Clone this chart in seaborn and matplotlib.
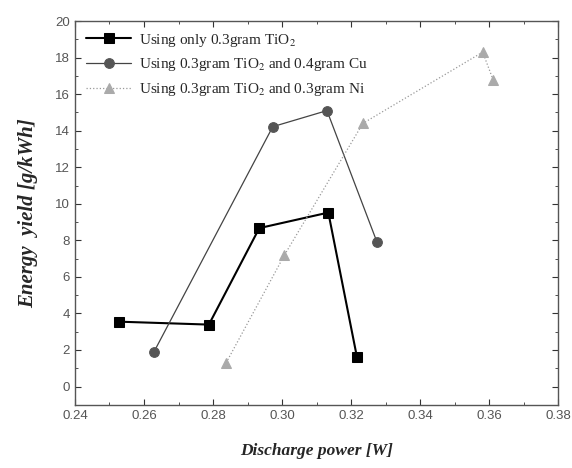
import matplotlib
matplotlib.use("Agg")
import matplotlib.pyplot as plt
import numpy as np
import pandas as pd
import seaborn as sns
from matplotlib.ticker import MultipleLocator

# values
power_tio2 = [0.2528, 0.2788, 0.2934, 0.3134, 0.3217]
yield_tio2 = [3.55, 3.39, 8.67, 9.52, 1.6]

power_cu = [0.2629, 0.2973, 0.3130, 0.3275]
yield_cu = [1.9, 14.22, 15.1, 7.9]

power_ni = [0.2838, 0.3007, 0.3234, 0.3581, 0.3611]
yield_ni = [1.3, 7.2, 14.4, 18.3, 16.8]

labels = ["Using only 0.3gram TiO$_2$",
          "Using 0.3gram TiO$_2$ and 0.4gram Cu",
          "Using 0.3gram TiO$_2$ and 0.3gram Ni"]

sns.set_style("ticks")
plt.rcParams['font.family'] = ['Liberation Serif', 'DejaVu Serif']
plt.rcParams['mathtext.fontset'] = 'stix'

fig = plt.figure(figsize=(5.72, 4.68), dpi=100)
ax = fig.add_axes([0.131, 0.135, 0.845, 0.82])

sns.lineplot(x=power_tio2, y=yield_tio2, ax=ax, color="black", lw=1.5,
             marker="s", markersize=7, markeredgecolor="black", sort=False,
             label=labels[0])
sns.lineplot(x=power_cu, y=yield_cu, ax=ax, color="#444444", lw=0.9,
             marker="o", markersize=7, markerfacecolor="#555555",
             markeredgecolor="#555555", sort=False, label=labels[1])
sns.lineplot(x=power_ni, y=yield_ni, ax=ax, color="#999999", lw=0.9,
             linestyle=":", marker="^", markersize=7, markerfacecolor="#aaaaaa",
             markeredgecolor="#aaaaaa", sort=False, label=labels[2])

ax.set_xlim(0.24, 0.38)
ax.set_ylim(-1, 20)
ax.xaxis.set_minor_locator(MultipleLocator(0.01))
ax.yaxis.set_major_locator(MultipleLocator(2))
ax.yaxis.set_minor_locator(MultipleLocator(1))
ax.set_xticks(np.arange(0.24, 0.381, 0.02))
ax.set_xticklabels(["0.24", "0.26", "0.28", "0.30", "0.32", "0.34", "0.36", "0.38"])
ax.tick_params(which="both", direction="in", top=True, right=True,
               labelsize=9.5, labelcolor="#555555", colors="#333333")
ax.tick_params(which="major", length=4)
ax.tick_params(which="minor", length=2)
for lab in ax.get_xticklabels() + ax.get_yticklabels():
    lab.set_family("Liberation Sans")
for sp in ax.spines.values():
    sp.set_color("#555555")
    sp.set_linewidth(1.0)

ax.set_xlabel("Discharge power [W]", fontsize=12.5, fontweight="bold",
              style="italic", labelpad=15)
ax.set_ylabel("Energy  yield [g/kWh]", fontsize=15, fontweight="bold",
              style="italic", labelpad=12)

ax.legend(loc="upper left", frameon=False, fontsize=11, handlelength=3,
          borderaxespad=0.3, labelspacing=0.5, handletextpad=0.5)

fig.savefig("out.png", dpi=100)
